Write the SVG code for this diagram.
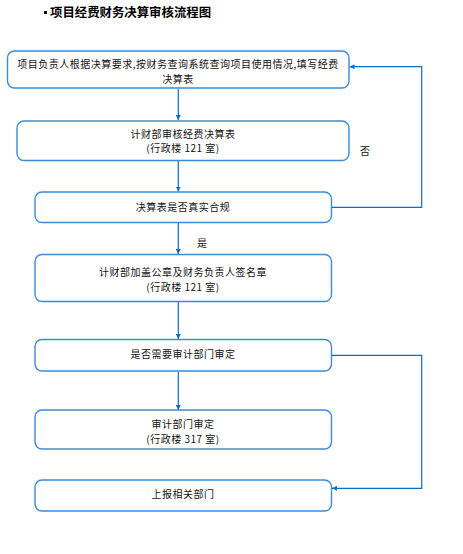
<svg xmlns="http://www.w3.org/2000/svg" width="463" height="554" viewBox="0 0 463 554">
<defs>
<style>
.box{fill:#ffffff;stroke:#3d8bd4;stroke-width:1.4}
.t{font-family:"Noto Sans CJK SC","Noto Sans",sans-serif;font-size:10px;fill:#111;text-anchor:middle;letter-spacing:0.5px}
.lbl{font-family:"Noto Sans CJK SC","Noto Sans",sans-serif;font-size:10px;fill:#111}
.c{fill:none;stroke:#0a6fc2;stroke-width:1.2}
</style>
<marker id="ah" viewBox="0 0 10 10" refX="10" refY="5" markerWidth="5" markerHeight="5" orient="auto" markerUnits="userSpaceOnUse">
<path d="M0,0 L10,5 L0,10 Z" fill="#0a6fc2"/>
</marker>
</defs>
<rect width="463" height="554" fill="#ffffff"/>
<g id="title">
<rect x="44" y="11" width="3" height="3" fill="#111"/>
<text x="50" y="17" style="font-family:'Noto Sans CJK SC',sans-serif;font-size:12.4px;font-weight:bold;fill:#000">项目经费财务决算审核流程图</text>
</g>
<g id="connectors">
<path class="c" d="M178.3,89 V120" marker-end="url(#ah)"/>
<path class="c" d="M178.3,161 V191.5" marker-end="url(#ah)"/>
<path class="c" d="M178.3,223 V254" marker-end="url(#ah)"/>
<path class="c" d="M178.3,302 V339" marker-end="url(#ah)"/>
<path class="c" d="M178.3,372 V410" marker-end="url(#ah)"/>
<path class="c" d="M332,207.3 H421.7 V66.7 H349.5" marker-end="url(#ah)"/>
<path class="c" d="M332,355.3 H421.7 V488.3 H332" marker-end="url(#ah)"/>
<text class="lbl" x="360" y="155">否</text>
<text class="lbl" x="197" y="247">是</text>
</g>
<g id="n1">
<rect class="box" x="7.5" y="51" width="341.5" height="37" rx="7"/>
<text class="t" x="178" y="68">项目负责人根据决算要求,按财务查询系统查询项目使用情况,填写经费</text>
<text class="t" x="178" y="83">决算表</text>
</g>
<g id="n2">
<rect class="box" x="17" y="121" width="332" height="39.5" rx="7"/>
<text class="t" x="183" y="138">计财部审核经费决算表</text>
<text class="t" x="183" y="152">(行政楼 121 室)</text>
</g>
<g id="n3">
<rect class="box" x="35" y="192" width="296.5" height="30.5" rx="7"/>
<text class="t" x="183" y="211">决算表是否真实合规</text>
</g>
<g id="n4">
<rect class="box" x="35" y="254.5" width="296.5" height="47" rx="7"/>
<text class="t" x="183" y="276">计财部加盖公章及财务负责人签名章</text>
<text class="t" x="183" y="291">(行政楼 121 室)</text>
</g>
<g id="n5">
<rect class="box" x="35" y="339.5" width="296.5" height="31.5" rx="7"/>
<text class="t" x="183" y="358">是否需要审计部门审定</text>
</g>
<g id="n6">
<rect class="box" x="35" y="410" width="296.5" height="39" rx="7"/>
<text class="t" x="183" y="428">审计部门审定</text>
<text class="t" x="183" y="443">(行政楼 317 室)</text>
</g>
<g id="n7">
<rect class="box" x="35" y="480" width="296.5" height="31" rx="7"/>
<text class="t" x="183" y="498">上报相关部门</text>
</g>
</svg>
